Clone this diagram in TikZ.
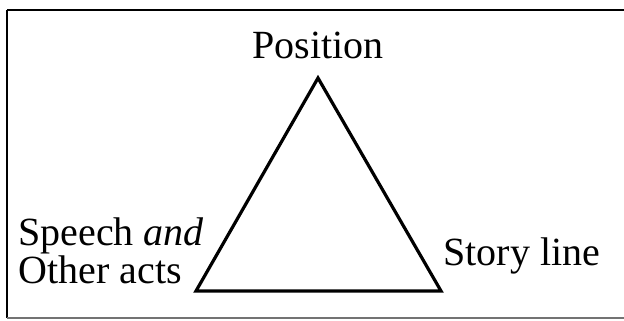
\documentclass[tikz,border=0pt]{standalone}
\usepackage{fontspec}
\setmainfont{Liberation Serif}

\begin{document}
\begin{tikzpicture}
[x=0.5pt, y=-0.5pt, every node/.style={inner sep=0pt, font=\fontsize{20}{22}\selectfont}]
\useasboundingbox (0, 0) rectangle (624, 320);
\draw [line width=0.9pt, color=black] (7, 10) -- (7, 318);
\draw [line width=1.1pt, color=black] (7, 10) -- (626, 10);
\draw [line width=0.8pt, color=black!55] (7, 318) -- (626, 318);
\coordinate (top) at (318, 78);
\coordinate (left) at (196, 291);
\coordinate (right) at (441, 291);
\node (position) [anchor=base] at (318, 59) {Position};
\node (speech) [anchor=base west] at (18, 245) {Speech \textit{and}};
\node (acts) [anchor=base west] at (18, 283) {Other acts};
\node (story) [anchor=base west] at (443, 265) {Story line};
\draw [line width=1.6pt, color=black, line join=miter] (top) -- (right) -- (left) -- cycle;
\end{tikzpicture}
\end{document}
